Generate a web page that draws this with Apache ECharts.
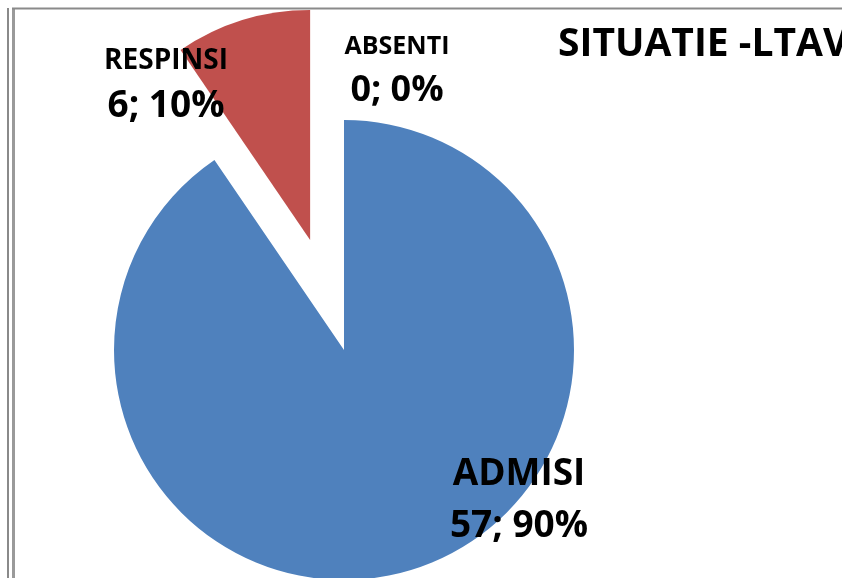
<!DOCTYPE html>
<html>
<head>
<meta charset="utf-8">
<script src="https://cdn.jsdelivr.net/npm/echarts@6/dist/echarts.min.js"></script>
<style>
  html, body { margin: 0; padding: 0; background: #fff; }
  #chart { width: 842px; height: 578px; }
</style>
</head>
<body>
<div id="chart"></div>
<script>
// slice data
const categories = ['ADMISI', 'RESPINSI', 'ABSENTI'];
const values = [57, 6, 0];
const colors = ['#4F81BD', '#C0504D', '#9BBB59'];
const titleText = 'SITUATIE -LTAV';

const EXPLODED = 1;        // RESPINSI is pulled out of the pie
const EXPLODE_DIST = 115;  // px
const CENTER = [344, 350];
const RADIUS = 230;

// where each data label sits (centre x, top y) — the original had them hand-dragged
const labelSpots = [
  { x: 519, y: 457, name: 37, val: 37, gap: 14 },
  { x: 166, y: 46, name: 28, val: 37, gap: 10 },
  { x: 397, y: 34, name: 25, val: 36, gap: 11 }
];

const FONT = '"Open Sans", Lato, sans-serif';
const chart = echarts.init(document.getElementById('chart'), null, { renderer: 'canvas' });

const rich = {};
labelSpots.forEach((s, i) => {
  rich['n' + i] = { fontFamily: FONT, fontWeight: 'bold', fontSize: s.name, color: '#000', lineHeight: s.name + 12, padding: [0, 0, s.gap, 0], align: 'center' };
  rich['v' + i] = { fontFamily: FONT, fontWeight: 'bold', fontSize: s.val, color: '#000', lineHeight: s.val + 4, align: 'center' };
});

// the exploded slice is drawn by a second pie whose centre is pushed out along the slice's bisector
const total = values.reduce((a, b) => a + b, 0);
const before = values.slice(0, EXPLODED).reduce((a, b) => a + b, 0);
const midFrac = (before + values[EXPLODED] / 2) / total;   // clockwise from 12 o'clock
const midRad = midFrac * 2 * Math.PI;
const explodedCenter = [
  CENTER[0] + EXPLODE_DIST * Math.sin(midRad),
  CENTER[1] - EXPLODE_DIST * Math.cos(midRad)
];

const mainData = categories.map((name, i) => ({
  name,
  value: values[i],
  itemStyle: { color: i === EXPLODED ? 'rgba(0,0,0,0)' : colors[i] }
}));
const explodedData = categories.map((name, i) => ({
  name,
  value: values[i],
  itemStyle: { color: i === EXPLODED ? colors[i] : 'rgba(0,0,0,0)' }
}));

chart.setOption({
  animation: false,
  title: {
    text: titleText,
    left: 553,
    top: 20,
    textStyle: { fontFamily: FONT, fontWeight: 'bold', fontSize: 39, color: '#000' }
  },
  graphic: [
    { type: 'line', shape: { x1: 8, y1: 8, x2: 8, y2: 578 }, style: { stroke: '#8a8a8a', lineWidth: 2 } },
    { type: 'line', shape: { x1: 13.5, y1: 8, x2: 13.5, y2: 578 }, style: { stroke: '#9a9a9a', lineWidth: 3 } },
    { type: 'line', shape: { x1: 12, y1: 8.5, x2: 842, y2: 8.5 }, style: { stroke: '#8a8a8a', lineWidth: 2 } }
  ],
  series: [{
    type: 'pie',
    center: explodedCenter,
    radius: RADIUS,
    startAngle: 90,
    clockwise: true,
    silent: true,
    emphasis: { disabled: true },
    itemStyle: { borderWidth: 0 },
    label: { show: false },
    labelLine: { show: false },
    data: explodedData
  }, {
    type: 'pie',
    center: CENTER,
    radius: RADIUS,
    startAngle: 90,
    clockwise: true,
    percentPrecision: 0,
    avoidLabelOverlap: false,
    emphasis: { disabled: true },
    itemStyle: { borderWidth: 0 },
    label: {
      show: true,
      position: 'outside',
      formatter: p => `{n${p.dataIndex}|${p.name}}\n{v${p.dataIndex}|${p.value}; ${p.percent}%}`,
      rich
    },
    labelLine: { show: false },
    labelLayout: function (params) {
      const s = labelSpots[params.dataIndex];
      return { x: s.x, y: s.y, align: 'center', verticalAlign: 'top', hideOverlap: false };
    },
    data: mainData
  }]
});
</script>
</body>
</html>
